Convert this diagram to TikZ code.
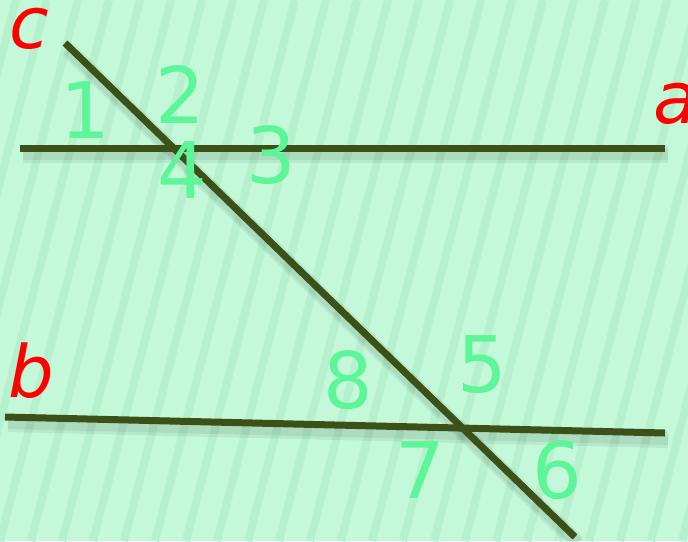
\documentclass[tikz,border=0pt]{standalone}
\usepackage{fontspec}
\setmainfont{DejaVu Sans}
\usetikzlibrary{calc}
\definecolor{bgmint}{HTML}{C3F9D9}
\definecolor{stripe}{HTML}{B6F0CD}
\definecolor{numgreen}{HTML}{5CF598}
\definecolor{linegreen}{HTML}{3B5117}
\begin{document}
\begin{tikzpicture}[x=1pt,y=-1pt,
  mainline/.style={draw=linegreen,line width=7pt},
  shadowline/.style={draw=black,opacity=0.06,line width=14pt},
  numlabel/.style={text=numgreen,font=\fontsize{78}{78}\selectfont,inner sep=0pt},
  letlabel/.style={text=red,font=\fontsize{72}{72}\selectfont\itshape,inner sep=0pt,anchor=base}]
\fill[bgmint] (0,0) rectangle (688,541);
\useasboundingbox (0,0) rectangle (688,541);
\begin{scope}
\clip (0,0) rectangle (688,541);
\foreach \i in {-6,...,24}{
  \draw[stripe,line width=8pt] ({\i*31},541) -- ({\i*31+140},0);
}
\end{scope}
% line endpoints
\coordinate (a1) at (20,148);
\coordinate (a2) at (665,148);
\coordinate (b1) at (5,417);
\coordinate (b2) at (665,433);
\coordinate (c1) at (65,43);
\coordinate (c2) at (575,537);
% shadows
\foreach \o in {5,8}{
\draw[shadowline] ($(a1)+(3,\o)$) -- ($(a2)+(3,\o)$);
\draw[shadowline] ($(b1)+(3,\o)$) -- ($(b2)+(3,\o)$);
\draw[shadowline] ($(c1)+(3,\o)$) -- ($(c2)+(3,\o)$);
}
\draw[mainline] (a1) -- (a2);
\draw[mainline] (b1) -- (b2);
\draw[mainline] (c1) -- (c2);
% labels
\node[numlabel] (n1) at (85,110) {1};
\node[numlabel] (n2) at (180,95) {2};
\node[numlabel] (n3) at (271,155) {3};
\node[numlabel] (n4) at (182,170) {4};
\node[numlabel] (n5) at (482,365) {5};
\node[numlabel] (n6) at (557,470) {6};
\node[numlabel] (n7) at (420,470) {7};
\node[numlabel] (n8) at (348,380) {8};
\node[letlabel] (la) at (676,123) {a};
\node[letlabel] (lb) at (31,397) {b};
\node[letlabel] (lc) at (29,48) {c};
\end{tikzpicture}
\end{document}
